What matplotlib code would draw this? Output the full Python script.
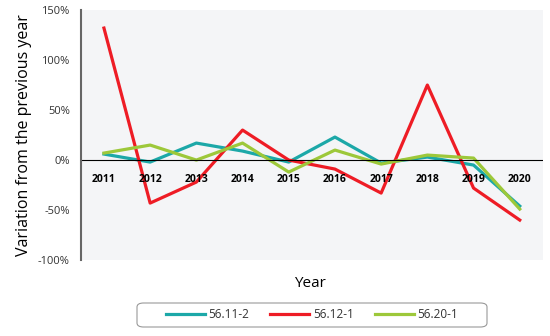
import matplotlib
matplotlib.use('Agg')
import matplotlib.pyplot as plt
from matplotlib.patches import FancyBboxPatch

years = [2011, 2012, 2013, 2014, 2015, 2016, 2017, 2018, 2019, 2020]
s_5611 = [6, -2, 17, 9, -2, 23, -3, 3, -5, -46]
s_5612 = [132, -43, -22, 30, 0, -9, -33, 75, -28, -60]
s_5620 = [7, 15, 0, 17, -12, 10, -4, 5, 2, -49]
labels = ['56.11-2', '56.12-1', '56.20-1']
colors = ['#1CA8A8', '#EE1C25', '#9DC83A']

plt.rcParams['font.family'] = ['Open Sans', 'DejaVu Sans']

fig = plt.figure(figsize=(5.5, 3.36), dpi=100)
ax = fig.add_axes([0.147, 0.226, 0.84, 0.744])
ax.set_facecolor('#F4F5F7')

for s, lab, c in zip([s_5611, s_5612, s_5620], labels, colors):
    ax.plot(years, s, color=c, lw=2.3, label=lab)

ax.axhline(0, color='black', lw=0.8)
ax.set_xlim(2010.5, 2020.5)
ax.set_ylim(-100, 150)
ax.set_yticks([-100, -50, 0, 50, 100, 150])
ax.set_yticklabels(['-100%', '-50%', '0%', '50%', '100%', '150%'], fontsize=8, color='#333333')
ax.set_xticks([])
for y in years:
    ax.text(y, -19, str(y), ha='center', va='center', fontsize=7.5, fontweight='bold')

for sp in ['top', 'right', 'bottom']:
    ax.spines[sp].set_visible(False)
ax.spines['left'].set_color('#666666')
ax.spines['left'].set_linewidth(1.5)
ax.tick_params(axis='y', length=0, pad=8)

ax.set_ylabel('Variation from the previous year', fontsize=11.5, labelpad=4)
fig.text(0.563, 0.155, 'Year', ha='center', va='center', fontsize=11)

# legend without frame, box drawn separately so it can be wider than tall
leg = fig.legend(loc='center', bbox_to_anchor=(0.567, 0.0625), ncol=3, fontsize=8.5,
                 frameon=False, handlelength=3.3, handletextpad=0.3, columnspacing=1.8)
for t in leg.get_texts():
    t.set_color('#333333')

box = FancyBboxPatch((137 / 550, 1 - 327 / 336), 350 / 550, 24 / 336,
                     boxstyle='round,pad=0,rounding_size=0.012',
                     transform=fig.transFigure, fill=False, edgecolor='#999999', lw=0.8)
fig.patches.append(box)

plt.savefig('out.png')
